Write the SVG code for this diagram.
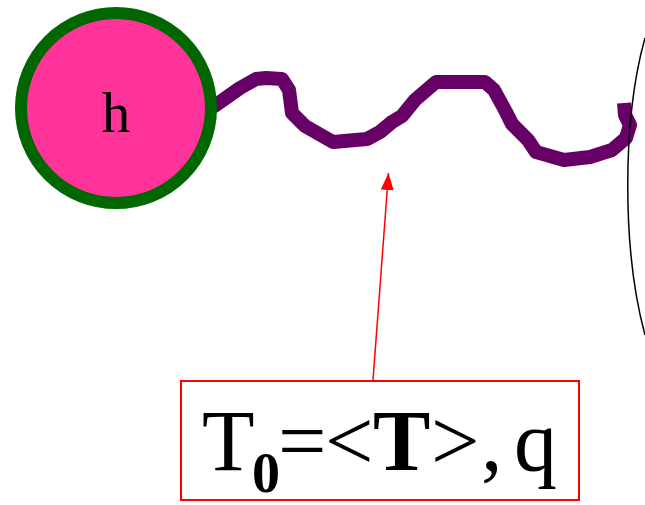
<svg xmlns="http://www.w3.org/2000/svg" width="645" height="505" viewBox="0 0 645 505">
  <style>
    .lbl { font-family: "Liberation Serif", "Times New Roman", serif; fill: #000; }
  </style>
  <defs>
    <marker id="redArrow" markerWidth="17" markerHeight="13" refX="17" refY="6.5" orient="auto" markerUnits="userSpaceOnUse">
      <path d="M0,0 L17,6.5 L0,13 Z" fill="#ff0000"/>
    </marker>
  </defs>
  <rect width="645" height="505" fill="#fff"/>

  <g id="connectors">
    <polyline id="chain" points="213,107 240,88 256,79 266,78 282,79 289,90 292,113 305,126 333,142 367,139 380,132 392,122 402,116 415,100 436,82 485,82 494,90 506,112 512,124 528,140 536,152 564,160 590,157 612,150 626,138 630,125 625,115 624,103"
      fill="none" stroke="#660066" stroke-width="14" stroke-linejoin="round" stroke-linecap="butt"/>
    <line id="pointer" x1="373" y1="380" x2="388.5" y2="173" stroke="#ff0000" stroke-width="1.5" marker-end="url(#redArrow)"/>
  </g>

  <g id="node-h">
    <circle cx="116" cy="108" r="95" fill="#ff3399" stroke="#006600" stroke-width="12"/>
    <text class="lbl" x="116" y="132" font-size="57" text-anchor="middle">h</text>
  </g>

  <g id="membrane">
    <path d="M645,38 C622,120 622,250 645,335" fill="none" stroke="#000" stroke-width="1.5"/>
  </g>

  <g id="label-box">
    <rect x="181" y="381" width="398" height="119" fill="#fff" stroke="#ff0000" stroke-width="2"/>
    <text class="lbl" y="470" font-size="86"><tspan x="202">T</tspan><tspan x="252" y="492" font-size="56" font-weight="bold">0</tspan><tspan x="278" y="470">=</tspan><tspan x="325">&lt;</tspan><tspan x="373" font-weight="bold">T</tspan><tspan x="431">&gt;</tspan><tspan x="481">,</tspan><tspan x="514">q</tspan></text>
  </g>
</svg>
